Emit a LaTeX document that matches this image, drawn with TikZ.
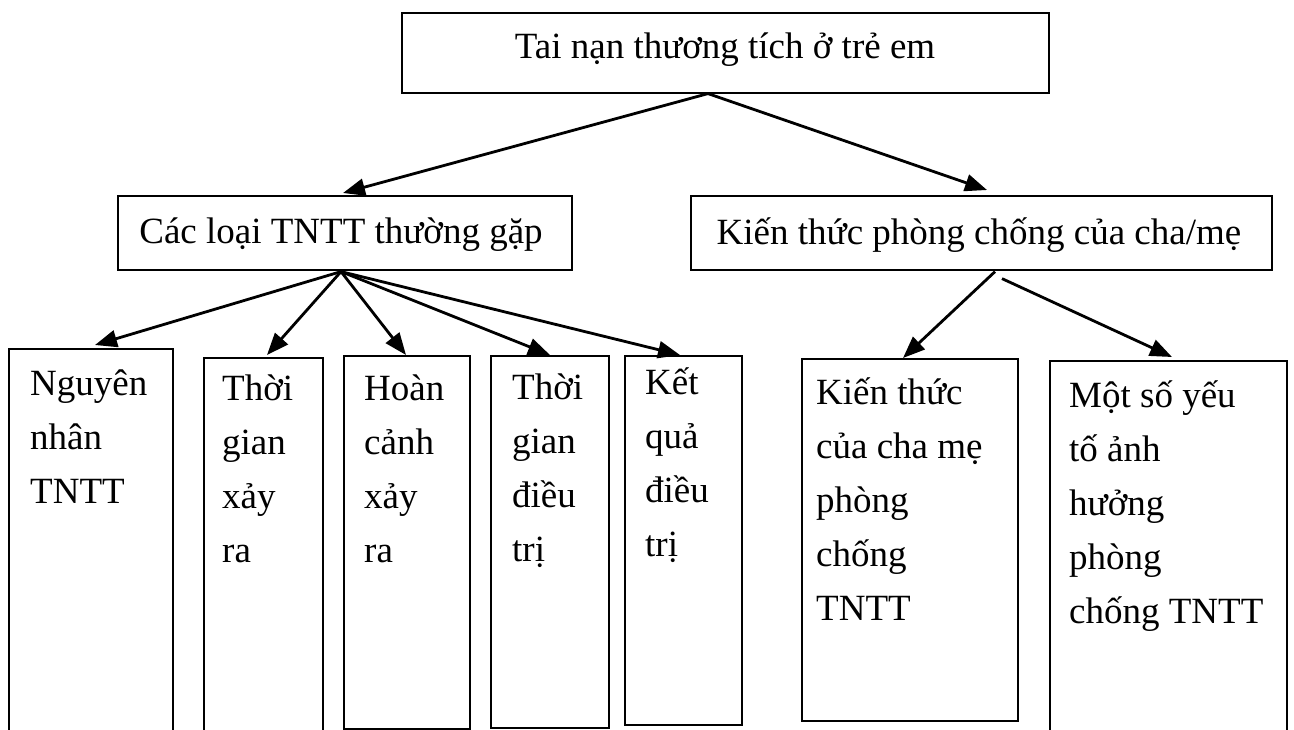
\documentclass[tikz,border=0pt]{standalone}
\usepackage{fontspec}
\setmainfont{Liberation Serif}
\usetikzlibrary{arrows.meta}
\begin{document}
\begin{tikzpicture}[x=1pt,y=-1pt,
  box/.style={draw, line width=1.6pt, inner sep=0pt, anchor=north west},
  lbl/.style={anchor=base west, inner sep=0pt, font=\fontsize{37}{44}\selectfont},
  arr/.style={line width=2.8pt, -{Triangle[length=22pt,width=17pt]}}]
\useasboundingbox (0,0) rectangle (1294,729);
% boxes
\node[box, minimum width=647pt, minimum height=80pt] (top) at (401,12) {};
\node[box, minimum width=454pt, minimum height=74pt] (cat) at (117,195) {};
\node[box, minimum width=581pt, minimum height=74pt] (kno) at (690,195) {};
\node[box, minimum width=164pt, minimum height=420pt] (b1) at (8,348) {};
\node[box, minimum width=119pt, minimum height=420pt] (b2) at (203,357) {};
\node[box, minimum width=126pt, minimum height=373pt] (b3) at (343,355) {};
\node[box, minimum width=118pt, minimum height=372pt] (b4) at (490,355) {};
\node[box, minimum width=117pt, minimum height=369pt] (b5) at (624,355) {};
\node[box, minimum width=216pt, minimum height=362pt] (b6) at (801,358) {};
\node[box, minimum width=237pt, minimum height=420pt] (b7) at (1049,360) {};
% texts
\node[lbl, anchor=base] (ttop) at (725,58) {Tai nạn thương tích ở trẻ em};
\node[lbl, anchor=base] (tcat) at (341,243) {Các loại TNTT thường gặp};
\node[lbl, anchor=base] (tkno) at (979,244) {Kiến thức phòng chống của cha/mẹ};
\node[lbl] (t1a) at (30,395) {Nguyên};
\node[lbl] (t1b) at (30,449) {nhân};
\node[lbl] (t1c) at (30,503) {TNTT};
\node[lbl] (t2a) at (222,400) {Thời};
\node[lbl] (t2b) at (222,454) {gian};
\node[lbl] (t2c) at (222,508) {xảy};
\node[lbl] (t2d) at (222,562) {ra};
\node[lbl] (t3a) at (364,400) {Hoàn};
\node[lbl] (t3b) at (364,454) {cảnh};
\node[lbl] (t3c) at (364,508) {xảy};
\node[lbl] (t3d) at (364,562) {ra};
\node[lbl] (t4a) at (512,399) {Thời};
\node[lbl] (t4b) at (512,453) {gian};
\node[lbl] (t4c) at (512,507) {điều};
\node[lbl] (t4d) at (512,561) {trị};
\node[lbl] (t5a) at (645,394) {Kết};
\node[lbl] (t5b) at (645,448) {quả};
\node[lbl] (t5c) at (645,502) {điều};
\node[lbl] (t5d) at (645,556) {trị};
\node[lbl] (t6a) at (816,404) {Kiến thức};
\node[lbl] (t6b) at (816,458) {của cha mẹ};
\node[lbl] (t6c) at (816,512) {phòng};
\node[lbl] (t6d) at (816,566) {chống};
\node[lbl] (t6e) at (816,620) {TNTT};
\node[lbl] (t7a) at (1069,407) {Một số yếu};
\node[lbl] (t7b) at (1069,461) {tố ảnh};
\node[lbl] (t7c) at (1069,515) {hưởng};
\node[lbl] (t7d) at (1069,569) {phòng};
\node[lbl] (t7e) at (1069,623) {chống TNTT};
% connectors
\draw[arr] ([xshift=307pt]top.south west) -- ([xshift=226pt,yshift=2pt]cat.north west);
\draw[arr] ([xshift=307pt]top.south west) -- ([xshift=297pt,yshift=5pt]kno.north west);
\draw[arr] ([xshift=224pt,yshift=-1pt]cat.south west) -- ([xshift=87pt,yshift=3pt]b1.north west);
\draw[arr] ([xshift=224pt,yshift=-1pt]cat.south west) -- ([xshift=64pt,yshift=2pt]b2.north west);
\draw[arr] ([xshift=224pt,yshift=-1pt]cat.south west) -- ([xshift=63pt]b3.north west);
\draw[arr] ([xshift=224pt,yshift=-1pt]cat.south west) -- ([xshift=60pt]b4.north west);
\draw[arr] ([xshift=224pt,yshift=-1pt]cat.south west) -- ([xshift=56pt]b5.north west);
\draw[arr] ([xshift=305pt,yshift=-1pt]kno.south west) -- ([xshift=102pt]b6.north west);
\draw[arr] ([xshift=312pt,yshift=-8pt]kno.south west) -- ([xshift=123pt,yshift=3pt]b7.north west);
\end{tikzpicture}
\end{document}
